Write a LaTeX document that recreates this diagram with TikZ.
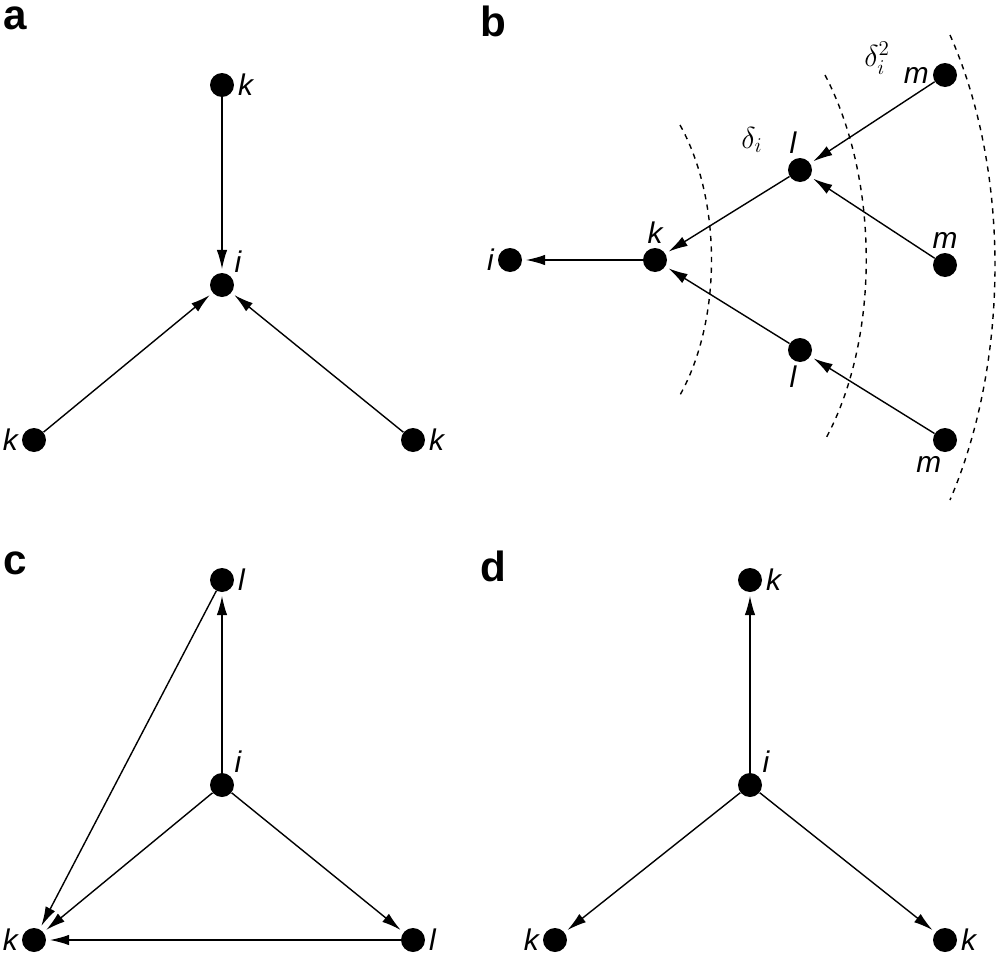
\documentclass[tikz,border=0pt]{standalone}
\usepackage{fontspec}
\setmainfont{Liberation Sans}
\usetikzlibrary{arrows.meta}
\begin{document}
\begin{tikzpicture}[x=0.02cm,y=-0.02cm,
  v/.style={circle,fill=black,inner sep=0pt,minimum size=0.48cm},
  e/.style={-{Latex[length=11pt,width=6pt]},line width=0.8pt,shorten >=2pt},
  lb/.style={font=\fontsize{17}{17}\selectfont\itshape,inner sep=2pt},
  pl/.style={font=\fontsize{24}{24}\selectfont\bfseries,anchor=north west,inner sep=0pt},
  arc/.style={dashed,line width=0.8pt}]
\useasboundingbox (0,0) rectangle (1002,954);
% panel letters
\node[pl] (pa) at (3,6) {a};
\node[pl] (pb) at (480,6) {b};
\node[pl] (pc) at (3,551) {c};
\node[pl] (pd) at (480,551) {d};
% a
\node[v] (ak) at (222,85) {}; \node[lb,right] (akl) at (ak.east) {k};
\node[v] (ai) at (222,285) {}; \node[lb,above right] (ail) at (ai.north east) {i};
\node[v] (ak1) at (34,440) {}; \node[lb,left] (ak1l) at (ak1.west) {k};
\node[v] (ak2) at (413,440) {}; \node[lb,right] (ak2l) at (ak2.east) {k};
\draw[e] (ak) -- (ai); \draw[e] (ak1) -- (ai); \draw[e] (ak2) -- (ai);
% b
\node[v] (bi) at (510,260) {}; \node[lb,left] (bil) at (bi.west) {i};
\node[v] (bk) at (655,260) {}; \node[lb,above] (bkl) at (bk.north) {k};
\node[v] (bl1) at (800,170) {}; \node[lb,above left] (bl1l) at (bl1.north) {l};
\node[v] (bm1) at (945,75) {}; \node[lb,left] (bm1l) at (bm1.west) {m};
\node[v] (bm2) at (945,265) {}; \node[lb,above] (bm2l) at (bm2.north) {m};
\node[v] (bl2) at (800,350) {}; \node[lb,below left] (bl2l) at (bl2.south) {l};
\node[v] (bm3) at (945,440) {}; \node[lb,below left] (bm3l) at (bm3.south) {m};
\draw[e] (bk) -- (bi); \draw[e] (bl1) -- (bk); \draw[e] (bl2) -- (bk);
\draw[e] (bm1) -- (bl1); \draw[e] (bm2) -- (bl1); \draw[e] (bm3) -- (bl2);
\draw[arc] (680,125) .. controls (722,200) and (722,320) .. (680,395);
\draw[arc] (825,75) .. controls (880,180) and (880,340) .. (825,440);
\draw[arc] (950,35) .. controls (1010,170) and (1010,360) .. (950,500);
\node[lb] (d1) at (752,140) {$\delta_i$};
\node[lb] (d2) at (877,58) {$\delta_i^2$};
% c
\node[v] (cl) at (222,580) {}; \node[lb,right] (cll) at (cl.east) {l};
\node[v] (ci) at (222,785) {}; \node[lb,above right] (cil) at (ci.north east) {i};
\node[v] (ck) at (34,940) {}; \node[lb,left] (ckl) at (ck.west) {k};
\node[v] (cl2) at (413,940) {}; \node[lb,right] (cl2l) at (cl2.east) {l};
\draw[e] (ci) -- (cl); \draw[e] (cl) -- (ck); \draw[e] (ci) -- (ck);
\draw[e] (ci) -- (cl2); \draw[e] (cl2) -- (ck);
% d
\node[v] (dk) at (750,580) {}; \node[lb,right] (dkl) at (dk.east) {k};
\node[v] (di) at (750,785) {}; \node[lb,above right] (dil) at (di.north east) {i};
\node[v] (dk1) at (555,940) {}; \node[lb,left] (dk1l) at (dk1.west) {k};
\node[v] (dk2) at (945,940) {}; \node[lb,right] (dk2l) at (dk2.east) {k};
\draw[e] (di) -- (dk); \draw[e] (di) -- (dk1); \draw[e] (di) -- (dk2);
\end{tikzpicture}
\end{document}
